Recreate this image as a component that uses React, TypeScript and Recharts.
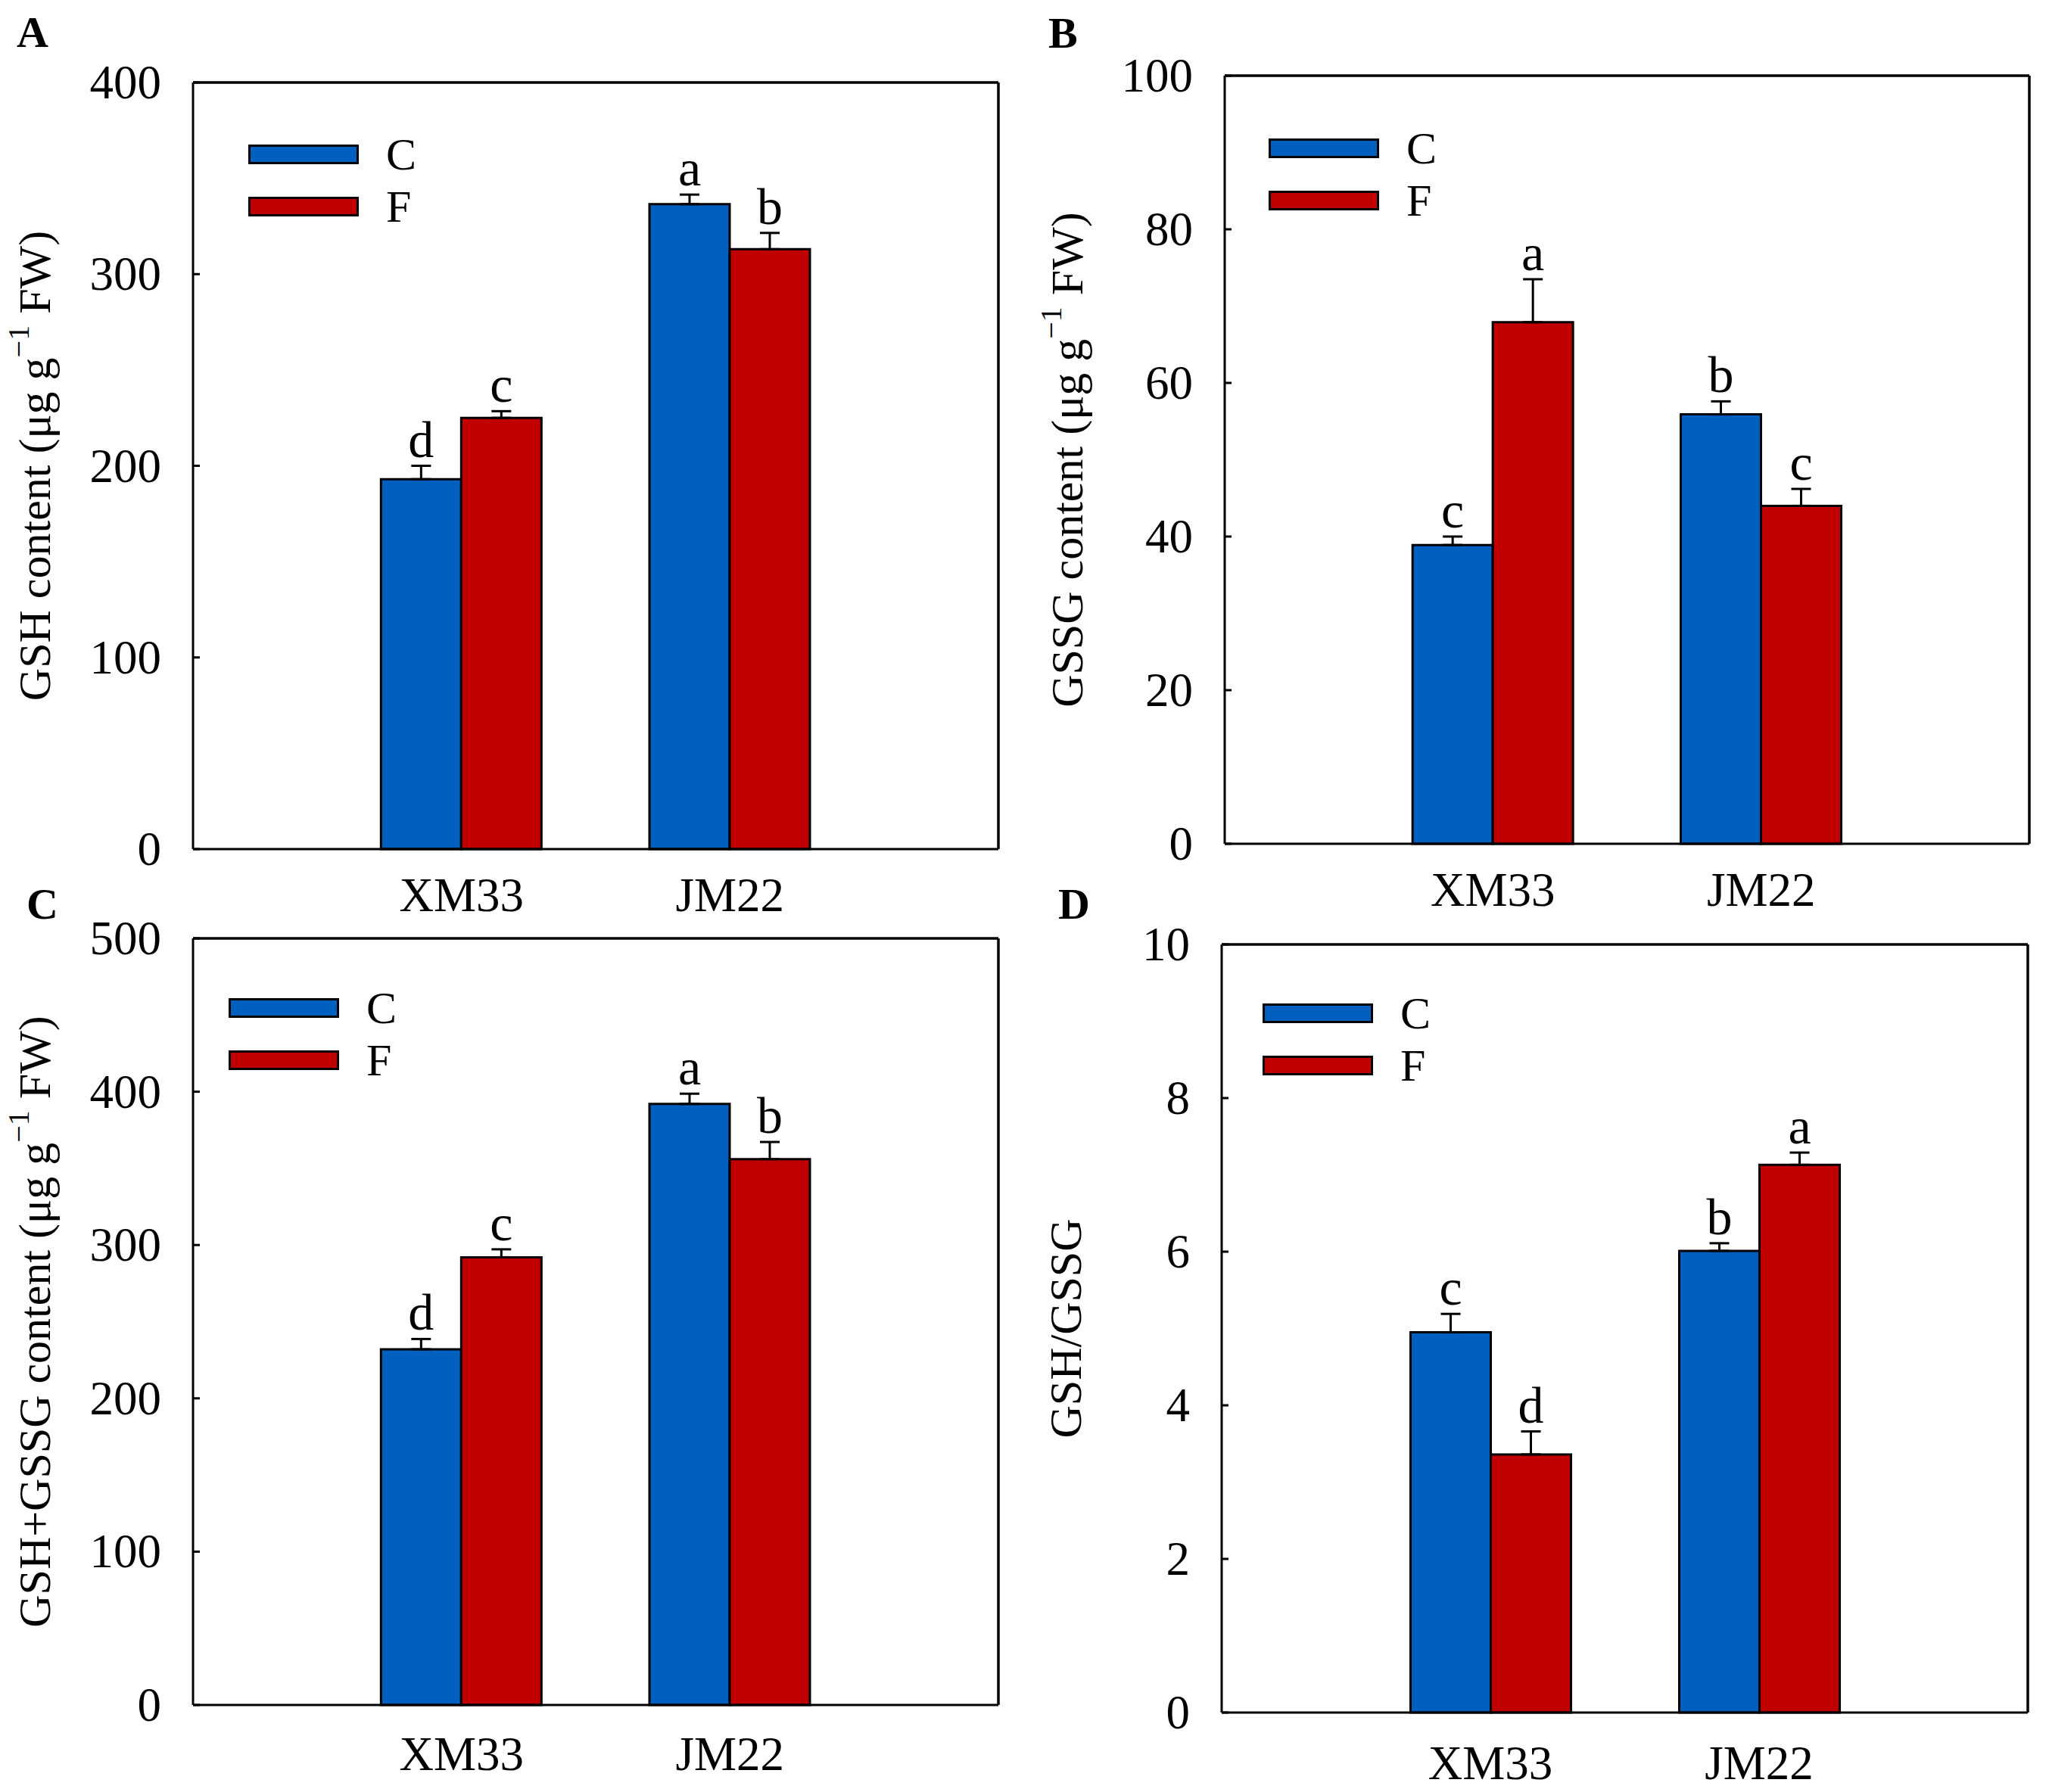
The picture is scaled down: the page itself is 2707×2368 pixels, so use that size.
import React from "react"
import { BarChart, Bar, XAxis, YAxis, ErrorBar, LabelList, Legend, CartesianGrid } from "recharts"

// categories / series
const genotypes = ["XM33", "JM22"]

// A: GSH
const gshC = [193, 336.5]
const gshF = [225, 313]
const gshCErr = [7, 5]
const gshFErr = [3.5, 8.5]
const gshCLetters = ["d", "a"]
const gshFLetters = ["c", "b"]
const gshTicks = [0, 100, 200, 300, 400]

// B: GSSG
const gssgC = [38.9, 55.9]
const gssgF = [67.9, 44]
const gssgCErr = [1.1, 1.7]
const gssgFErr = [5.6, 2.2]
const gssgCLetters = ["c", "b"]
const gssgFLetters = ["a", "c"]
const gssgTicks = [0, 20, 40, 60, 80, 100]

// C: GSH+GSSG
const totalC = [232, 392]
const totalF = [292, 356]
const totalCErr = [6.7, 6.7]
const totalFErr = [5.2, 11.2]
const totalCLetters = ["d", "a"]
const totalFLetters = ["c", "b"]
const totalTicks = [0, 100, 200, 300, 400, 500]

// D: GSH/GSSG
const ratioC = [4.95, 6.01]
const ratioF = [3.36, 7.13]
const ratioCErr = [0.24, 0.1]
const ratioFErr = [0.3, 0.16]
const ratioCLetters = ["c", "b"]
const ratioFLetters = ["d", "a"]
const ratioTicks = [0, 2, 4, 6, 8, 10]

const BLUE = "#0060BF"
const RED = "#C00000"
const FONT = "Liberation Serif, Times New Roman, serif"

const buildData = (c, f, ce, fe, cl, fl) =>
	genotypes.map((name, i) => ({
		name,
		C: c[i],
		F: f[i],
		cErr: [0, ce[i]],
		fErr: [0, fe[i]],
		cLetter: cl[i],
		fLetter: fl[i],
	}))

const panels = [
	{
		id: "A",
		data: buildData(gshC, gshF, gshCErr, gshFErr, gshCLetters, gshFLetters),
		ticks: gshTicks,
		label: ["GSH content (μg g", "−1", " FW)"],
		chart: { left: 0, top: 0, width: 1353, height: 1240 },
		box: { L: 255, T: 109, R: 1319, B: 1122 },
		labelX: 46,
		legend: { left: 328, top: 169 },
		xTickMargin: 38,
	},
	{
		id: "B",
		data: buildData(gssgC, gssgF, gssgCErr, gssgFErr, gssgCLetters, gssgFLetters),
		ticks: gssgTicks,
		label: ["GSSG content (μg g", "−1", " FW)"],
		chart: { left: 1353, top: 0, width: 1354, height: 1240 },
		box: { L: 1618, T: 100, R: 2681, B: 1115 },
		labelX: 57,
		legend: { left: 323, top: 161 },
		xTickMargin: 38,
	},
	{
		id: "C",
		data: buildData(totalC, totalF, totalCErr, totalFErr, totalCLetters, totalFLetters),
		ticks: totalTicks,
		label: ["GSH+GSSG content (μg g", "−1", " FW)"],
		chart: { left: 0, top: 1160, width: 1353, height: 1208 },
		box: { L: 255, T: 1240, R: 1319, B: 2253 },
		labelX: 46,
		legend: { left: 302, top: 137 },
		xTickMargin: 42,
	},
	{
		id: "D",
		data: buildData(ratioC, ratioF, ratioCErr, ratioFErr, ratioCLetters, ratioFLetters),
		ticks: ratioTicks,
		label: ["GSH/GSSG", "", ""],
		chart: { left: 1353, top: 1160, width: 1354, height: 1208 },
		box: { L: 1614, T: 1248, R: 2679, B: 2263 },
		labelX: 55,
		legend: { left: 315, top: 144 },
		xTickMargin: 44,
	},
]

const panelLetters = [
	{ text: "A", x: 22, y: 62 },
	{ text: "B", x: 1385, y: 63 },
	{ text: "C", x: 35, y: 1214 },
	{ text: "D", x: 1398, y: 1214 },
]

const axisStyle = { stroke: "#000", strokeWidth: 3 }

// serif tick text, Recharts positions it
const XTick = ({ x, y, payload }: any) => (
	<text x={x} y={y} dy={44} textAnchor="middle" fontSize={63} fontFamily={FONT} fill="#000">
		{payload.value}
	</text>
)
const YTick = ({ x, y, payload }: any) => (
	<text x={x} y={y} dy={21} textAnchor="end" fontSize={63} fontFamily={FONT} fill="#000">
		{payload.value}
	</text>
)

function LegendBox({ payload }: any) {
	return (
		<div>
			{(payload || []).map((entry: any) => (
				<div
					key={entry.value}
					style={{ display: "flex", alignItems: "center", height: 69 }}
				>
					<svg width={146} height={26}>
						<rect x={1.5} y={1.5} width={143} height={23} fill={entry.color} stroke="#000" strokeWidth={3} />
					</svg>
					<span style={{ marginLeft: 36, fontFamily: FONT, fontSize: 60, color: "#000", lineHeight: 1 }}>
						{entry.value}
					</span>
				</div>
			))}
		</div>
	)
}

function Panel({ cfg }: any) {
	const { chart, box, data, ticks } = cfg
	const max = ticks[ticks.length - 1]
	const pad = (box.R - box.L) / 6
	const xAxisH = 50
	const margin = {
		top: box.T - chart.top - 1,
		right: chart.left + chart.width - box.R - 1,
		bottom: chart.top + chart.height - box.B - xAxisH,
		left: 0,
	}

	const letterContent = (errKey: string, valKey: string) => (props: any) => {
		const { x, y, width, height, index, value } = props
		const row = data[index]
		const unit = Number(height) / row[valKey]
		const top = Number(y) - row[errKey][1] * unit
		return (
			<text
				x={Number(x) + Number(width) / 2}
				y={top - 12}
				textAnchor="middle"
				fontSize={68}
				fontFamily={FONT}
				fill="#000"
			>
				{value}
			</text>
		)
	}

	const yLabel = (props: any) => {
		const vb = props.viewBox || {}
		const cx = cfg.labelX
		const cy = vb.y + vb.height / 2
		const [pre, sup, post] = cfg.label
		return (
			<text
				x={cx}
				y={cy}
				transform={`rotate(-90 ${cx} ${cy})`}
				textAnchor="middle"
				dominantBaseline="central"
				fontSize={60}
				fontFamily={FONT}
				fill="#000"
			>
				{pre}
				{sup && (
					<tspan dy={-22} fontSize={40}>
						{sup}
					</tspan>
				)}
				{sup && <tspan dy={22}>{post}</tspan>}
			</text>
		)
	}

	return (
		<div style={{ position: "absolute", left: chart.left, top: chart.top, fontFamily: FONT }}>
			<BarChart
				width={chart.width}
				height={chart.height}
				data={data}
				margin={margin}
				barGap={0}
				barSize={106}
			>
				{/* top and right frame lines */}
				<CartesianGrid
					stroke="#000"
					strokeWidth={3}
					horizontalCoordinatesGenerator={({ offset }: any) => [offset.top]}
					verticalCoordinatesGenerator={({ offset }: any) => [offset.left + offset.width]}
				/>
				<XAxis
					dataKey="name"
					padding={{ left: pad, right: pad }}
					tickLine={false}
					axisLine={axisStyle}
					tickSize={0}
					tickMargin={cfg.xTickMargin}
					height={xAxisH}
					interval={0}
					tick={<XTick />}
				/>
				<XAxis
					xAxisId="top"
					orientation="top"
					dataKey="name"
					padding={{ left: pad, right: pad }}
					height={1}
					tick={false}
					tickLine={false}
					axisLine={axisStyle}
				/>
				<YAxis
					type="number"
					domain={[0, max]}
					ticks={ticks}
					interval={0}
					width={box.L - chart.left}
					tickSize={-9}
					tickMargin={51}
					tickLine={axisStyle}
					axisLine={axisStyle}
					tick={<YTick />}
					label={{ content: yLabel }}
				/>
				<YAxis
					yAxisId="right"
					orientation="right"
					type="number"
					domain={[0, max]}
					width={1}
					tick={false}
					tickLine={false}
					axisLine={axisStyle}
				/>
				<Legend
					layout="vertical"
					align="center"
					verticalAlign="middle"
					wrapperStyle={{ left: cfg.legend.left, top: cfg.legend.top, width: "auto", height: "auto" }}
					content={<LegendBox />}
				/>
				<Bar dataKey="C" name="C" fill={BLUE} stroke="#000" strokeWidth={3} isAnimationActive={false}>
					<ErrorBar dataKey="cErr" direction="y" width={13} stroke="#000" strokeWidth={3} isAnimationActive={false} />
					<LabelList dataKey="cLetter" content={letterContent("cErr", "C")} />
				</Bar>
				<Bar dataKey="F" name="F" fill={RED} stroke="#000" strokeWidth={3} isAnimationActive={false}>
					<ErrorBar dataKey="fErr" direction="y" width={13} stroke="#000" strokeWidth={3} isAnimationActive={false} />
					<LabelList dataKey="fLetter" content={letterContent("fErr", "F")} />
				</Bar>
			</BarChart>
		</div>
	)
}

export default function App() {
	return (
		<div
			style={{
				position: "absolute",
				left: 0,
				top: 0,
				width: 2707,
				height: 2368,
				background: "#fff",
				overflow: "hidden",
			}}
		>
			{panels.map((p) => (
				<Panel key={p.id} cfg={p} />
			))}
			<svg
				width={2707}
				height={2368}
				style={{ position: "absolute", left: 0, top: 0, pointerEvents: "none" }}
			>
				{panelLetters.map((l) => (
					<text key={l.text} x={l.x} y={l.y} fontSize={58} fontWeight="bold" fontFamily={FONT} fill="#000">
						{l.text}
					</text>
				))}
			</svg>
		</div>
	)
}
